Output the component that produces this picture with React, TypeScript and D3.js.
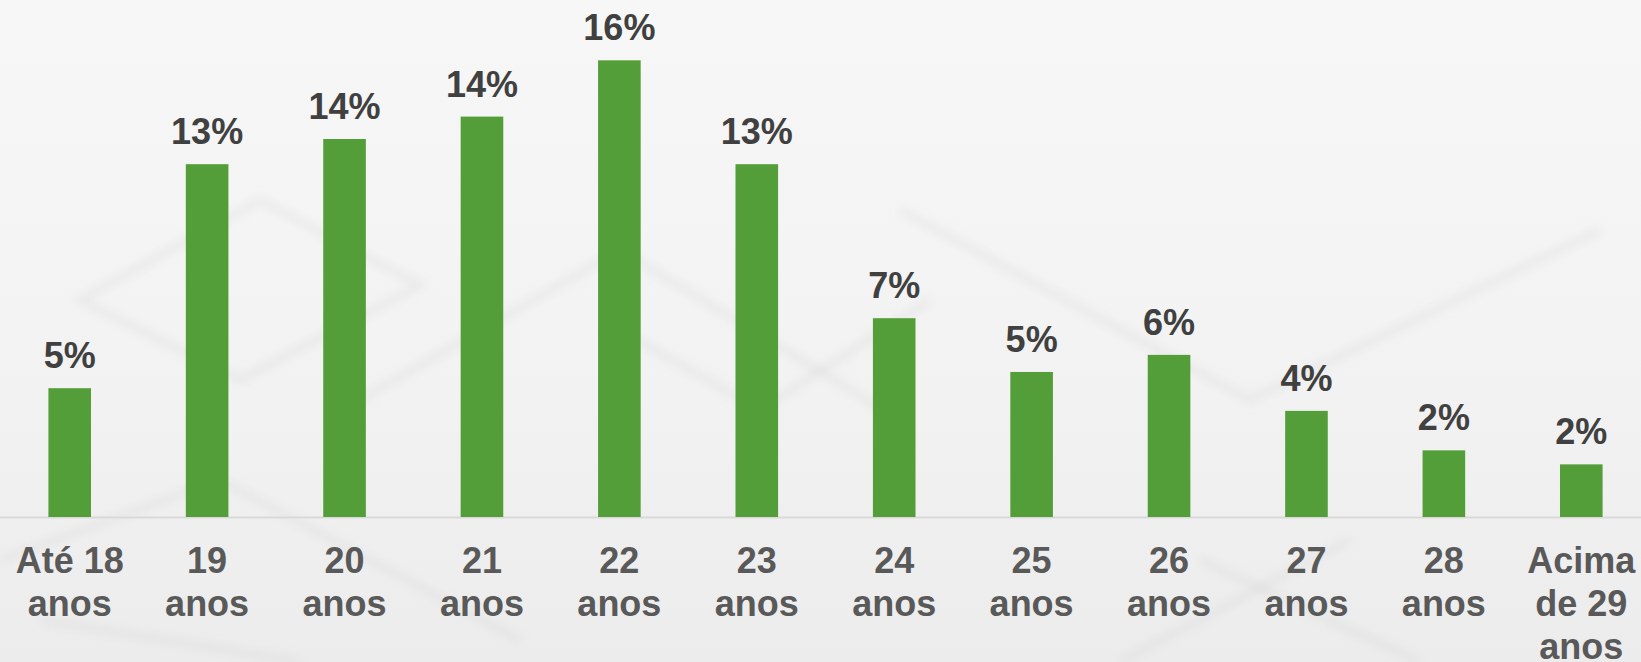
import React from "react";
import * as d3 from "d3";

const categories: string[][] = [
  ["Até 18", "anos"],
  ["19", "anos"],
  ["20", "anos"],
  ["21", "anos"],
  ["22", "anos"],
  ["23", "anos"],
  ["24", "anos"],
  ["25", "anos"],
  ["26", "anos"],
  ["27", "anos"],
  ["28", "anos"],
  ["Acima", "de 29", "anos"],
];
const values: number[] = [4.6, 12.6, 13.5, 14.3, 16.31, 12.6, 7.1, 5.18, 5.79, 3.79, 2.38, 1.88];
const valueLabels: string[] = ["5%", "13%", "14%", "14%", "16%", "13%", "7%", "5%", "6%", "4%", "2%", "2%"];

const W = 1641;
const H = 662;
const FONT = "'Liberation Sans', Arial, sans-serif";

export default function App() {
  const keys = categories.map((c) => c.join(" "));
  const x = d3.scaleBand<string>().domain(keys).range([1, 1650]).paddingInner(0.69).paddingOuter(0.345);
  const y = d3.scaleLinear().domain([0, 18]).range([517, 517 - 18 * 28]);
  const base = y(0);

  return (
    <svg
      width={W}
      height={H}
      style={{ position: "fixed", left: 0, top: 0, display: "block" }}
      fontFamily={FONT}
    >
      <defs>
        <linearGradient id="bg" x1="0" y1="0" x2="0" y2="1">
          <stop offset="0" stopColor="#f7f7f7" />
          <stop offset="0.6" stopColor="#f2f2f2" />
          <stop offset="1" stopColor="#ececec" />
        </linearGradient>
        <filter id="blur">
          <feGaussianBlur stdDeviation="5" />
        </filter>
      </defs>
      <rect x={0} y={0} width={W} height={H} fill="url(#bg)" />
      <g stroke="#c8c8c8" strokeOpacity={0.25} strokeWidth={7} fill="none" filter="url(#blur)">
        <path d="M80,300 L260,200 L420,285 L240,380 Z" />
        <path d="M360,400 L620,250 L900,420" />
        <path d="M620,330 L760,410 L930,300" />
        <path d="M0,560 L220,480 L520,640" />
        <path d="M900,210 L1250,400 L1600,230" />
        <path d="M1350,540 L1120,662" />
        <path d="M1200,560 L1420,662" />
        <path d="M40,620 L300,662" />
      </g>
      <line x1={0} x2={W} y1={base + 0.5} y2={base + 0.5} stroke="#d9d9d9" strokeWidth={2} />
      {keys.map((k, i) => {
        const bx = x(k)!;
        const bw = x.bandwidth();
        const cx = bx + bw / 2;
        return (
          <g key={k}>
            <rect x={bx} y={y(values[i])} width={bw} height={base - y(values[i])} fill="#539e39" />
            <text
              x={cx}
              y={y(values[i]) - 20}
              textAnchor="middle"
              fontSize={36}
              fontWeight="bold"
              fill="#404040"
            >
              {valueLabels[i]}
            </text>
            {categories[i].map((line, j) => (
              <text
                key={j}
                x={cx}
                y={573 + j * 43}
                textAnchor="middle"
                fontSize={36}
                fontWeight="bold"
                fill="#595959"
              >
                {line}
              </text>
            ))}
          </g>
        );
      })}
    </svg>
  );
}
